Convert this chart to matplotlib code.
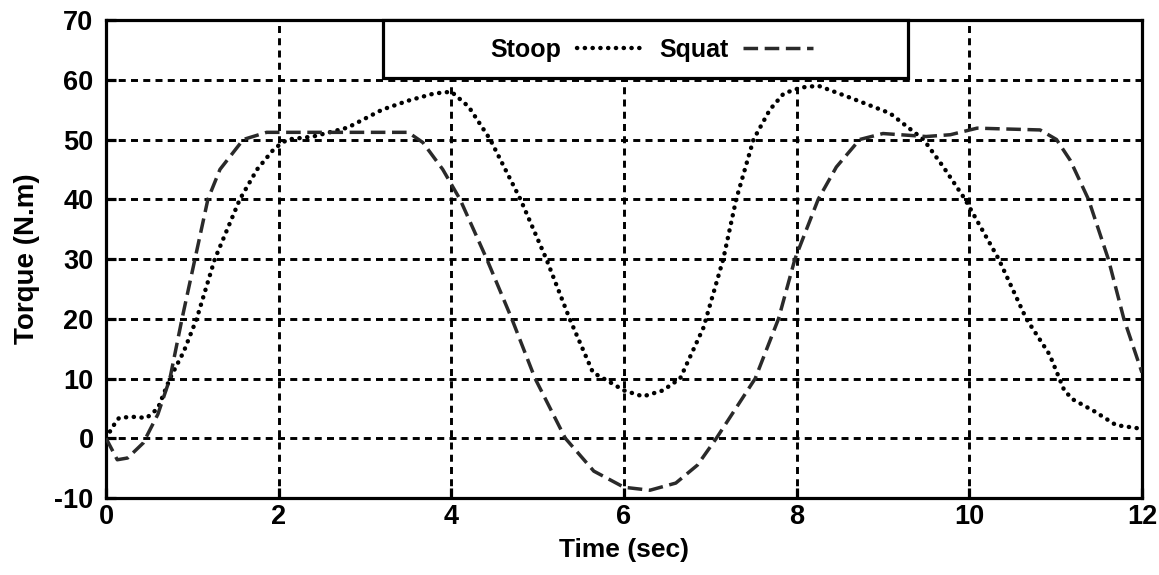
import matplotlib
matplotlib.use("Agg")
import matplotlib.pyplot as plt
from matplotlib.lines import Line2D
from matplotlib.patches import Rectangle

# Joint torque during repeated lifting, stoop vs squat technique
stoop_time = [0.00, 0.08, 0.15, 0.30, 0.47, 0.60, 0.74, 0.90, 1.05, 1.26,
              1.55, 1.75, 1.95, 2.10, 2.40, 2.80, 3.20, 3.50, 3.80, 4.00,
              4.20, 4.45, 4.80, 5.10, 5.37, 5.64, 5.80, 6.00, 6.22, 6.45,
              6.65, 6.92, 7.15, 7.30, 7.50, 7.69, 7.85, 8.05, 8.25, 8.62,
              9.08, 9.47, 9.70, 9.95, 10.34, 10.66, 10.93, 11.10, 11.20, 11.45,
              11.70, 11.94, 12.00]
stoop_torque = [0.0, 2.0, 3.4, 3.6, 3.4, 5.0, 10.0, 14.5, 20.0, 30.0,
                40.0, 45.0, 48.5, 50.0, 50.5, 52.0, 55.0, 56.5, 57.7, 58.0,
                55.5, 50.0, 40.0, 30.0, 20.0, 11.0, 9.7, 8.0, 7.0, 8.0,
                10.0, 18.5, 30.0, 40.0, 50.0, 55.0, 57.7, 58.7, 59.0, 57.0,
                54.4, 50.0, 45.4, 40.0, 30.0, 20.0, 14.0, 8.0, 6.5, 4.5,
                2.2, 1.7, 1.5]

squat_time = [0.00, 0.13, 0.25, 0.43, 0.60, 0.74, 0.88, 1.03, 1.18, 1.32,
              1.59, 1.86, 2.60, 3.50, 3.67, 3.90, 4.10, 4.41, 4.70, 4.97,
              5.32, 5.65, 6.00, 6.30, 6.60, 6.85, 7.07, 7.52, 7.79, 7.98,
              8.25, 8.46, 8.73, 9.00, 9.50, 9.78, 10.09, 10.82, 11.01, 11.17,
              11.38, 11.61, 11.79, 12.00]
squat_torque = [0.0, -3.6, -3.3, -0.8, 4.0, 10.0, 20.0, 30.0, 40.0, 45.0,
                50.0, 51.2, 51.2, 51.2, 49.5, 45.0, 40.0, 30.0, 20.0, 10.0,
                0.0, -5.5, -8.2, -8.7, -7.5, -4.5, 0.0, 10.0, 20.0, 30.0,
                40.0, 45.4, 50.0, 51.0, 50.5, 50.8, 51.9, 51.6, 50.0, 46.5,
                40.0, 30.0, 20.0, 11.0]

x_ticks = [0, 2, 4, 6, 8, 10, 12]
y_ticks = [-10, 0, 10, 20, 30, 40, 50, 60, 70]
series_labels = ["Stoop", "Squat"]

plt.rcParams["font.family"] = ["Liberation Sans", "DejaVu Sans"]
plt.rcParams["font.weight"] = "bold"

fig = plt.figure(figsize=(11.59, 5.75), dpi=100)
ax = fig.add_axes([0.0915, 0.1339, 0.8938, 0.8313])

stoop_style = dict(color="black", lw=3.2, linestyle=(0, (0.05, 1.7)),
                   dash_capstyle="round")
squat_style = dict(color="#2a2a2a", lw=2.5, linestyle=(0, (4.2, 1.9)),
                   dash_capstyle="butt")

ax.plot(stoop_time, stoop_torque, zorder=3, **stoop_style)
ax.plot(squat_time, squat_torque, zorder=3, **squat_style)

ax.set_xlim(0, 12)
ax.set_ylim(-10, 70)
ax.set_xticks(x_ticks)
ax.set_yticks(y_ticks)
ax.set_xticklabels([str(v) for v in x_ticks])
ax.set_yticklabels([str(v) for v in y_ticks])

ax.grid(True, color="black", linestyle=(0, (2.4, 1.8)), linewidth=2.1, zorder=1)
ax.set_axisbelow(True)
for side in ax.spines.values():
    side.set_linewidth(2.3)
ax.tick_params(direction="in", length=7, width=2.3, labelsize=19.5,
               top=False, right=False)
ax.tick_params(axis="x", pad=4)
ax.tick_params(axis="y", pad=9)

ax.set_xlabel("Time (sec)", fontsize=19, fontweight="bold", labelpad=6)
ax.set_ylabel("Torque (N.m)", fontsize=20, fontweight="bold", labelpad=10)

# Legend: wide white box along the top edge, labels placed before handles
ax.add_patch(Rectangle((0.267, 0.879), 0.507, 0.121, transform=ax.transAxes,
                       facecolor="white", edgecolor="black", linewidth=2.3,
                       zorder=5, clip_on=False))
handles = [Line2D([], [], **stoop_style), Line2D([], [], **squat_style)]
leg = ax.legend(handles, series_labels, ncol=2, markerfirst=False,
                frameon=False, loc="center", bbox_to_anchor=(0.527, 0.937),
                prop={"size": 18, "weight": "bold"}, handlelength=2.8,
                handletextpad=0.6, columnspacing=0.5, borderpad=0.2)
leg.set_zorder(6)

fig.savefig("out.png", dpi=100)
